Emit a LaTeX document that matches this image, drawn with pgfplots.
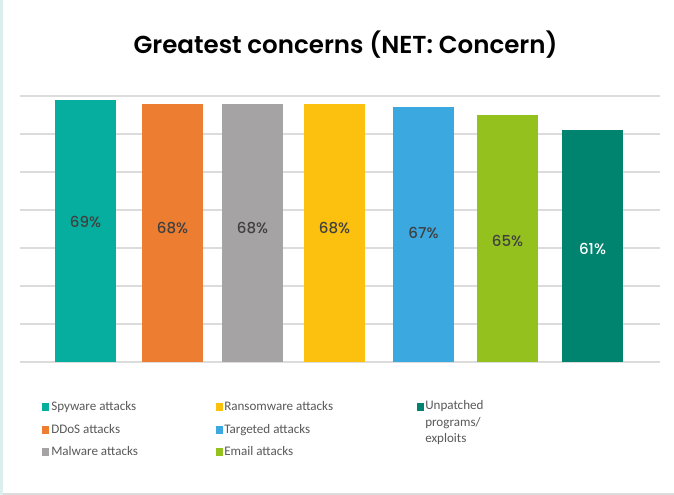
\documentclass[border=0pt]{standalone}
\usepackage{pgfplots}
\pgfplotsset{compat=1.18}
\usepackage{fontspec}
\setmainfont{Carlito}
\newfontfamily\titlefont{Poppins SemiBold}
\newfontfamily\lblfont{Poppins Medium}
\definecolor{cSpy}{HTML}{05AE9F}
\definecolor{cDDoS}{HTML}{ED7D31}
\definecolor{cMal}{HTML}{A5A3A4}
\definecolor{cRan}{HTML}{FBC10E}
\definecolor{cTar}{HTML}{3BA8E0}
\definecolor{cEma}{HTML}{95C11F}
\definecolor{cUnp}{HTML}{00836F}
\definecolor{gridc}{HTML}{DCDCDC}
\definecolor{lbl}{HTML}{404040}
\definecolor{legtxt}{HTML}{595959}
\definecolor{edgec}{HTML}{DDEFEC}
\begin{document}
\begin{tikzpicture}[x=0.75pt,y=0.75pt]
\useasboundingbox (0,0) rectangle (674,495);
\fill[white] (0,0) rectangle (674,495);
\fill[edgec] (0,0) rectangle (3,495);
\fill[gridc] (3,0) rectangle (674,2);
\node[font=\titlefont\fontsize{18.4}{20}\selectfont, text=black] at (345.5,450) {Greatest concerns (NET: Concern)};
\begin{axis}[
  at={(15pt,99.75pt)}, anchor=south west,
  scale only axis, width=480pt, height=199.5pt,
  xmin=20, xmax=660, ymin=0, ymax=70,
  axis line style={draw=none},
  major tick length=0pt,
  ytick={0,10,...,70}, xtick=\empty,
  ymajorgrids, grid style={gridc, line width=1pt},
  yticklabels={},
  ybar, bar width=61, bar shift=0pt,
  clip=false,
]
\addplot[fill=cSpy, draw=none] coordinates {(85.5,69)};
\addplot[fill=cDDoS, draw=none] coordinates {(172.5,68)};
\addplot[fill=cMal, draw=none] coordinates {(252.5,68)};
\addplot[fill=cRan, draw=none] coordinates {(334.5,68)};
\addplot[fill=cTar, draw=none] coordinates {(423.5,67)};
\addplot[fill=cEma, draw=none] coordinates {(507.5,65)};
\addplot[fill=cUnp, draw=none] coordinates {(592.5,61)};
\addplot[draw=none, mark=none, forget plot, point meta=explicit symbolic,
  nodes near coords, nodes near coords align={center},
  every node near coord/.append style={font=\lblfont\fontsize{11.3}{12}\selectfont, text=lbl, anchor=center}]
  coordinates {(85.5,36.8) [69\%] (172.5,35.3) [68\%] (252.5,35.3) [68\%] (334.5,35.3) [68\%] (423.5,34.0) [67\%] (507.5,31.8) [65\%]};
\addplot[draw=none, mark=none, forget plot, point meta=explicit symbolic,
  nodes near coords, nodes near coords align={center},
  every node near coord/.append style={font=\lblfont\fontsize{11.3}{12}\selectfont, text=white, anchor=center}]
  coordinates {(592.5,29.7) [61\%]};
\end{axis}
% legend
\begin{scope}[every node/.style={font=\fontsize{9.8}{12.5}\selectfont, text=legtxt, anchor=base west, inner sep=0pt}]
\fill[cSpy] (42,84) rectangle (49,92);
\node at (51,84) {Spyware attacks};
\fill[cDDoS] (42,61) rectangle (49,69);
\node at (51,61) {DDoS attacks};
\fill[cMal] (42,39) rectangle (49,47);
\node at (51,39) {Malware attacks};
\fill[cRan] (216,84) rectangle (223,92);
\node at (224,84) {Ransomware attacks};
\fill[cTar] (216,61) rectangle (223,69);
\node at (224,61) {Targeted attacks};
\fill[cEma] (216,39) rectangle (223,47);
\node at (224,39) {Email attacks};
\fill[cUnp] (417,84) rectangle (424,92);
\node[align=left, anchor=north west] at (425,95) {Unpatched\\programs/\\exploits};
\end{scope}
\end{tikzpicture}
\end{document}
